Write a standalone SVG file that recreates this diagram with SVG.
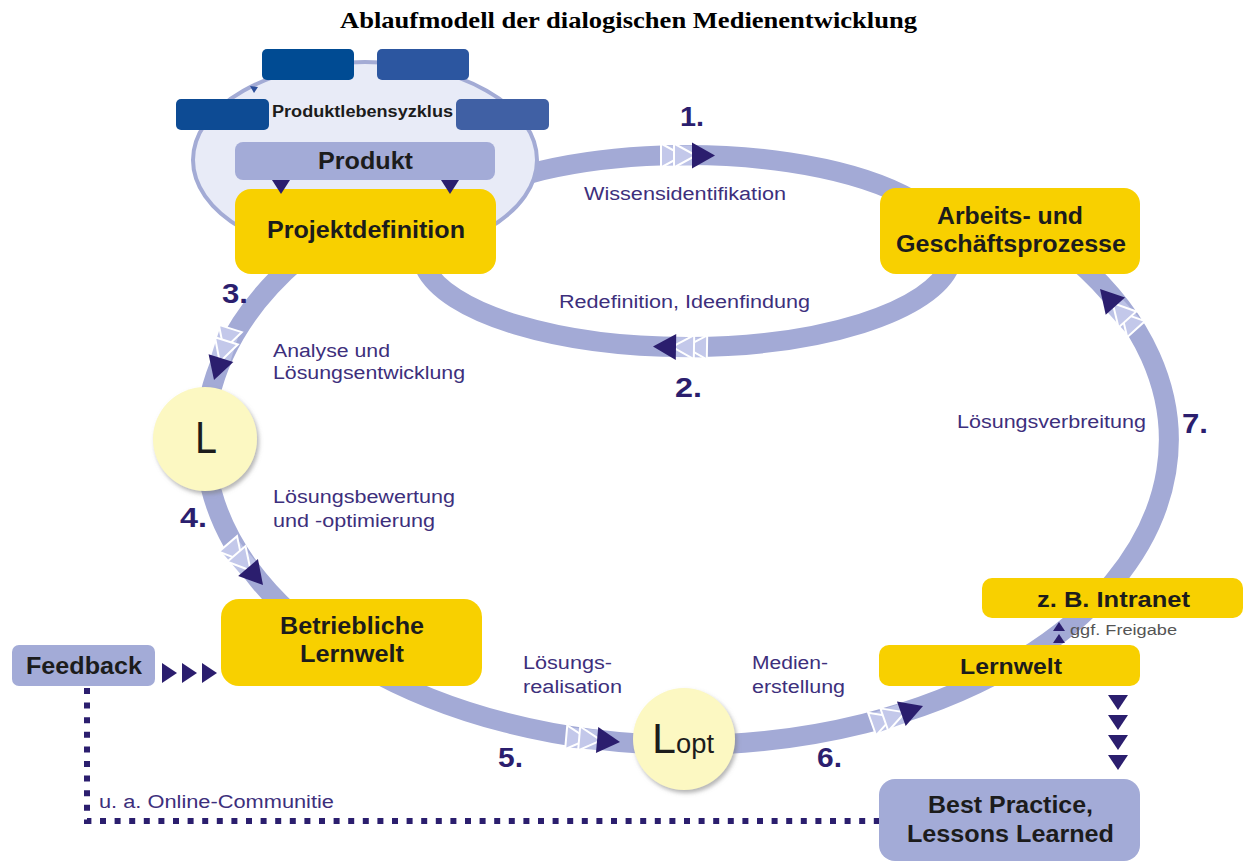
<svg xmlns="http://www.w3.org/2000/svg" xmlns:xlink="http://www.w3.org/1999/xlink" width="1245" height="861" viewBox="0 0 1245 861">
<style>
.band{fill:none;stroke:#a3aad6;stroke-width:20}
.gold{fill:#f8d000}
.lav{fill:#a3abd7}
.bt{font-family:"Liberation Sans",Arial,sans-serif;font-weight:bold;fill:#1c1c1c}
.lb{font-family:"Liberation Sans",Arial,sans-serif;fill:#3d2f7c;font-size:18px}
.num{font-family:"Liberation Sans",Arial,sans-serif;font-weight:bold;fill:#2b1e6e;font-size:27px}
.nav{fill:#2b1e6e}
.circ{fill:#fcf8c2}
</style>
<defs>
<filter id="sh" x="-20%" y="-20%" width="150%" height="150%">
<feDropShadow dx="2" dy="3" stdDeviation="2" flood-color="#777" flood-opacity="0.55"/>
</filter>
<g id="arr">
<rect x="-54" y="-10" width="32" height="20" fill="#bcc2e6"/>
<polygon points="-54,-12 -32,0 -54,12" fill="#c3c8ea" stroke="#fff" stroke-width="2"/>
<polygon points="-41,-12 -19,0 -41,12" fill="#c3c8ea" stroke="#fff" stroke-width="2"/>
<polygon points="-23,-13 0,0 -23,13" fill="#2b1e6e"/>
</g>
</defs>
<rect width="1245" height="861" fill="#fff"/>
<text x="340" y="28" font-family="'Liberation Serif','Times New Roman',serif" font-weight="bold" font-size="24" fill="#000" textLength="577" lengthAdjust="spacingAndGlyphs">Ablaufmodell der dialogischen Medienentwicklung</text>

<g id="connectors">
<path class="band" d="M530,173.5 A266 96 0 0 1 950,236.6"/>
<path class="band" d="M950,265.4 A266 96 0 0 1 425,267.6"/>
<path class="band" d="M300,258 A482 305 0 1 0 1076,260"/>
<path d="M87,688 V821 H879" fill="none" stroke="#2b1e6e" stroke-width="6" stroke-dasharray="6 8.6"/>
</g>

<g id="produktlebenszyklus">
<ellipse cx="365" cy="160" rx="172" ry="98" fill="#e8ebf7" stroke="#a3abd5" stroke-width="4"/>
<rect x="262" y="49" width="92" height="31" rx="5" fill="#004b93"/>
<rect x="377" y="49" width="92" height="31" rx="5" fill="#2c56a0"/>
<rect x="176" y="99" width="93" height="31" rx="5" fill="#0d4b94"/>
<rect x="456" y="99" width="93" height="31" rx="5" fill="#4060a4"/>
<polygon points="250,86 258,87 254,93" fill="#2b4e9a"/>
<text class="bt" x="272" y="117" font-size="16" fill="#333" textLength="181" lengthAdjust="spacingAndGlyphs">Produktlebensyzklus</text>
</g>
<g id="produkt">
<rect class="lav" x="235" y="142" width="260" height="38" rx="8"/>
<text class="bt" x="318" y="169" font-size="24" textLength="95" lengthAdjust="spacingAndGlyphs">Produkt</text>
</g>
<g id="projektdefinition">
<rect class="gold" x="235" y="189" width="261" height="85" rx="16"/>
<text class="bt" x="267" y="238" font-size="24" textLength="198" lengthAdjust="spacingAndGlyphs">Projektdefinition</text>
</g>
<g id="arbeitsprozesse">
<rect class="gold" x="880" y="188" width="260" height="86" rx="16"/>
<text class="bt" x="937" y="224" font-size="23" textLength="146" lengthAdjust="spacingAndGlyphs">Arbeits- und</text>
<text class="bt" x="896" y="252" font-size="23" textLength="230" lengthAdjust="spacingAndGlyphs">Geschäftsprozesse</text>
</g>
<g id="loesung">
<circle class="circ" cx="205" cy="439" r="52" filter="url(#sh)"/>
<text x="195" y="453" font-family="'Liberation Sans',Arial,sans-serif" font-size="44" fill="#1c1c1c" textLength="22" lengthAdjust="spacingAndGlyphs">L</text>
</g>
<g id="betriebliche-lernwelt">
<rect class="gold" x="221" y="599" width="261" height="87" rx="18"/>
<text class="bt" x="280" y="634" font-size="23" textLength="144" lengthAdjust="spacingAndGlyphs">Betriebliche</text>
<text class="bt" x="300" y="662" font-size="23" textLength="104" lengthAdjust="spacingAndGlyphs">Lernwelt</text>
</g>
<g id="feedback">
<rect class="lav" x="12" y="645" width="143" height="41" rx="7"/>
<text class="bt" x="26" y="674" font-size="23" textLength="116" lengthAdjust="spacingAndGlyphs">Feedback</text>
</g>
<g id="loesung-opt">
<circle class="circ" cx="684" cy="739" r="51" filter="url(#sh)"/>
<text x="652" y="753" font-family="'Liberation Sans',Arial,sans-serif" font-size="43" fill="#1c1c1c">L</text>
<text x="676" y="753" font-family="'Liberation Sans',Arial,sans-serif" font-size="27" fill="#1c1c1c" textLength="38" lengthAdjust="spacingAndGlyphs">opt</text>
</g>
<g id="intranet">
<rect class="gold" x="982" y="578" width="261" height="40" rx="10"/>
<text class="bt" x="1037" y="607" font-size="22" textLength="153" lengthAdjust="spacingAndGlyphs">z. B. Intranet</text>
</g>
<g id="lernwelt">
<rect class="gold" x="879" y="645" width="261" height="41" rx="10"/>
<text class="bt" x="960" y="674" font-size="22" textLength="102" lengthAdjust="spacingAndGlyphs">Lernwelt</text>
</g>
<g id="best-practice">
<rect class="lav" x="879" y="779" width="261" height="82" rx="16"/>
<text class="bt" x="928" y="813" font-size="23" textLength="165" lengthAdjust="spacingAndGlyphs">Best Practice,</text>
<text class="bt" x="907" y="842" font-size="23" textLength="207" lengthAdjust="spacingAndGlyphs">Lessons Learned</text>
</g>

<g id="connector-arrows">
<use xlink:href="#arr" transform="translate(715,155.5)"/>
<use xlink:href="#arr" transform="translate(653,346.5) rotate(181)"/>
<use xlink:href="#arr" transform="translate(214,380) rotate(107.6)"/>
<use xlink:href="#arr" transform="translate(263,585) rotate(49.5)"/>
<use xlink:href="#arr" transform="translate(620,742) rotate(5)"/>
<use xlink:href="#arr" transform="translate(923,706) rotate(-19.5)"/>
<use xlink:href="#arr" transform="translate(1100,289) rotate(-132)"/>
<polygon class="nav" points="272,180 290,180 281,194"/>
<polygon class="nav" points="441,180 459,180 450,194"/>
<polygon class="nav" points="162,663 177,673 162,683"/>
<polygon class="nav" points="182,663 197,673 182,683"/>
<polygon class="nav" points="202,663 217,673 202,683"/>
<polygon class="nav" points="1108,695 1128,695 1118,710"/>
<polygon class="nav" points="1108,715 1128,715 1118,730"/>
<polygon class="nav" points="1108,735 1128,735 1118,750"/>
<polygon class="nav" points="1108,755 1128,755 1118,770"/>
<polygon class="nav" points="1053,631 1065,631 1059,622"/>
<polygon class="nav" points="1053,643 1065,643 1059,634"/>
</g>

<g id="labels">
<text class="lb" x="584" y="200" textLength="202" lengthAdjust="spacingAndGlyphs">Wissensidentifikation</text>
<text class="lb" x="559" y="308" textLength="251" lengthAdjust="spacingAndGlyphs">Redefinition, Ideenfindung</text>
<text class="lb" x="273" y="357" textLength="117" lengthAdjust="spacingAndGlyphs">Analyse und</text>
<text class="lb" x="273" y="379" textLength="192" lengthAdjust="spacingAndGlyphs">Lösungsentwicklung</text>
<text class="lb" x="273" y="503" textLength="182" lengthAdjust="spacingAndGlyphs">Lösungsbewertung</text>
<text class="lb" x="273" y="527" textLength="162" lengthAdjust="spacingAndGlyphs">und -optimierung</text>
<text class="lb" x="957" y="428" textLength="189" lengthAdjust="spacingAndGlyphs">Lösungsverbreitung</text>
<text class="lb" x="523" y="669" textLength="89" lengthAdjust="spacingAndGlyphs">Lösungs-</text>
<text class="lb" x="523" y="693" textLength="99" lengthAdjust="spacingAndGlyphs">realisation</text>
<text class="lb" x="752" y="669" textLength="76" lengthAdjust="spacingAndGlyphs">Medien-</text>
<text class="lb" x="752" y="693" textLength="93" lengthAdjust="spacingAndGlyphs">erstellung</text>
<text class="lb" x="99" y="808" textLength="235" lengthAdjust="spacingAndGlyphs">u. a. Online-Communitie</text>
<text x="1070" y="635" font-family="'Liberation Sans',Arial,sans-serif" font-size="14" fill="#555" textLength="107" lengthAdjust="spacingAndGlyphs">ggf. Freigabe</text>
<text class="num" x="680" y="126" textLength="24" lengthAdjust="spacingAndGlyphs">1.</text>
<text class="num" x="675" y="397" textLength="27" lengthAdjust="spacingAndGlyphs">2.</text>
<text class="num" x="222" y="303" textLength="26" lengthAdjust="spacingAndGlyphs">3.</text>
<text class="num" x="180" y="527" textLength="27" lengthAdjust="spacingAndGlyphs">4.</text>
<text class="num" x="498" y="767" textLength="25" lengthAdjust="spacingAndGlyphs">5.</text>
<text class="num" x="817" y="767" textLength="25" lengthAdjust="spacingAndGlyphs">6.</text>
<text class="num" x="1182" y="433" textLength="26" lengthAdjust="spacingAndGlyphs">7.</text>
</g>
</svg>
